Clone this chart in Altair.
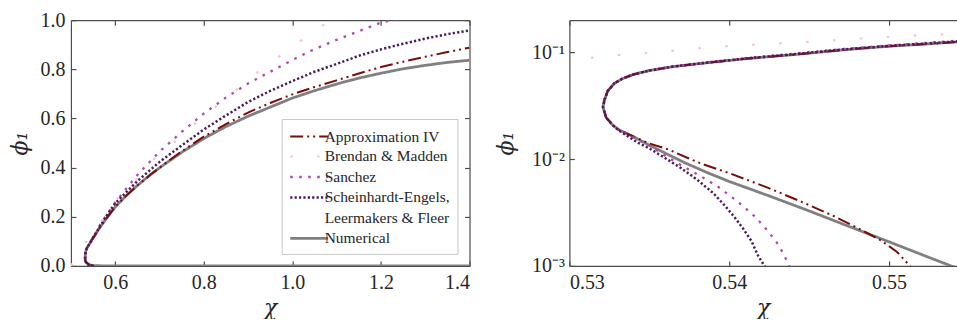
import altair as alt
import pandas as pd

# ---------------- data (chi, phi_1) ----------------
NUM_CHI = [1.40, 0.80, 0.65, 0.60, 0.57, 0.56, 0.5545, 0.5525, 0.550, 0.5475, 0.545, 0.5425, 0.540, 0.5386,
           0.5372, 0.5360, 0.5350, 0.5340, 0.5331, 0.5327, 0.5323, 0.5321, 0.5322, 0.5324, 0.5328, 0.5333,
           0.5340, 0.5350, 0.5365, 0.5385, 0.5410, 0.5440, 0.5470, 0.5500, 0.5525, 0.5545, 0.560, 0.566,
           0.580, 0.600, 0.625, 0.650, 0.680, 0.710, 0.750, 0.800, 0.850, 0.900, 0.950, 1.000, 1.050,
           1.100, 1.150, 1.200, 1.250, 1.300, 1.350, 1.400]
NUM_PHI = [0.000001, 0.00001, 0.00003, 0.0001, 0.0004, 0.0006, 0.00092, 0.0012, 0.00168, 0.00234, 0.00327,
           0.00452, 0.00617, 0.0075, 0.00927, 0.01135, 0.0135, 0.0162, 0.0188, 0.0209, 0.0245, 0.0307,
           0.036, 0.0435, 0.051, 0.0565, 0.062, 0.0675, 0.0735, 0.0795, 0.087, 0.095, 0.105, 0.114, 0.120,
           0.126, 0.142, 0.158, 0.193, 0.240, 0.286, 0.327, 0.372, 0.412, 0.462, 0.518, 0.567, 0.609, 0.646,
           0.683, 0.713, 0.740, 0.764, 0.784, 0.802, 0.816, 0.828, 0.837]

RED_CHI = [0.5518, 0.5513, 0.5505, 0.5495, 0.5482, 0.5466, 0.5445, 0.5424, 0.5400, 0.5383, 0.5375, 0.5362,
           0.5350, 0.5340, 0.5331, 0.5327, 0.5323, 0.5321, 0.5322, 0.5324, 0.5328, 0.5333, 0.5340, 0.5350,
           0.5365, 0.5385, 0.5410, 0.5440, 0.5470, 0.5500, 0.5525, 0.5545, 0.560, 0.566, 0.580, 0.600,
           0.625, 0.650, 0.680, 0.710, 0.750, 0.800, 0.850, 0.900, 0.950, 1.000, 1.050, 1.100, 1.150,
           1.200, 1.250, 1.300, 1.350, 1.400]
RED_PHI = [0.0008, 0.0010, 0.00135, 0.00173, 0.0022, 0.0029, 0.0040, 0.0054, 0.0074, 0.0090, 0.0101, 0.0123,
           0.0140, 0.0163, 0.0188, 0.0209, 0.0245, 0.0307, 0.036, 0.0435, 0.051, 0.0565, 0.062, 0.0675,
           0.0735, 0.0795, 0.087, 0.095, 0.105, 0.114, 0.120, 0.126, 0.142, 0.158, 0.193, 0.240, 0.286,
           0.327, 0.372, 0.413, 0.466, 0.526, 0.577, 0.624, 0.663, 0.698, 0.728, 0.755, 0.783, 0.809,
           0.831, 0.851, 0.870, 0.888]

SAN_CHI = [0.5440, 0.5437, 0.5431, 0.5424, 0.5416, 0.5408, 0.5400, 0.5393, 0.5383, 0.5372, 0.5362, 0.5350,
           0.5340, 0.5331, 0.5327, 0.5323, 0.5321, 0.5322, 0.5324, 0.5328, 0.5333, 0.5340, 0.5350, 0.5365,
           0.5385, 0.5410, 0.5440, 0.5470, 0.5500, 0.5525, 0.5545, 0.560, 0.566, 0.580, 0.600, 0.625,
           0.650, 0.675, 0.700, 0.750, 0.800, 0.850, 0.900, 0.950, 1.000, 1.050, 1.100, 1.150, 1.200, 1.250]
SAN_PHI = [0.0008, 0.00105, 0.00156, 0.00214, 0.0029, 0.0037, 0.0046, 0.0055, 0.0068, 0.0084, 0.0103, 0.0134,
           0.0160, 0.0187, 0.0209, 0.0245, 0.0307, 0.036, 0.0435, 0.051, 0.0565, 0.062, 0.0675, 0.0737,
           0.080, 0.088, 0.097, 0.107, 0.116, 0.123, 0.129, 0.148, 0.168, 0.205, 0.258, 0.315, 0.370,
           0.418, 0.465, 0.545, 0.620, 0.685, 0.742, 0.790, 0.838, 0.882, 0.920, 0.955, 0.990, 1.010]

SEL_CHI = [0.5424, 0.5422, 0.5418, 0.5414, 0.5409, 0.5403, 0.5397, 0.5390, 0.5380, 0.5370, 0.5360, 0.5350,
           0.5343, 0.5337, 0.5331, 0.5327, 0.5323, 0.5321, 0.5322, 0.5324, 0.5328, 0.5333, 0.5340, 0.5350,
           0.5365, 0.5385, 0.5410, 0.5440, 0.5470, 0.5500, 0.5525, 0.5545, 0.560, 0.566, 0.580, 0.600,
           0.650, 0.700, 0.750, 0.800, 0.850, 0.900, 0.950, 1.000, 1.050, 1.100, 1.150, 1.200, 1.250,
           1.300, 1.350, 1.400]
SEL_PHI = [0.0008, 0.0010, 0.00125, 0.0017, 0.0022, 0.0029, 0.0037, 0.0048, 0.0064, 0.0082, 0.0102, 0.0126,
           0.0142, 0.0162, 0.0185, 0.0208, 0.0245, 0.0307, 0.036, 0.0435, 0.051, 0.0565, 0.062, 0.0675,
           0.0735, 0.0797, 0.0875, 0.0957, 0.106, 0.115, 0.1215, 0.127, 0.144, 0.162, 0.203, 0.255, 0.345,
           0.423, 0.490, 0.555, 0.612, 0.667, 0.712, 0.752, 0.790, 0.822, 0.855, 0.881, 0.904, 0.925,
           0.943, 0.958]

BM_CHI = [0.500, 0.510, 0.520, 0.530, 0.5318, 0.5335, 0.5353, 0.5370, 0.5387, 0.5404, 0.5421, 0.5438, 0.5456,
          0.5472, 0.5490, 0.5507, 0.5524, 0.5545, 0.572, 0.611, 0.653, 0.690, 0.741, 0.788, 0.835, 0.8855,
          0.931, 0.982, 1.032, 1.085, 1.100]
BM_PHI = [0.0005, 0.030, 0.058, 0.0861, 0.0899, 0.0958, 0.0993, 0.1052, 0.1113, 0.1154, 0.1187, 0.1230,
          0.1265, 0.1321, 0.1369, 0.1419, 0.1449, 0.1503, 0.190, 0.290, 0.360, 0.440, 0.515, 0.592, 0.660,
          0.735, 0.802, 0.868, 0.933, 0.999, 1.020]

# legend entries (the 5th is the second line of the 4th label)
SERIES = ["Approximation IV", "Brendan & Madden", "Sanchez", "Scheinhardt-Engels,",
          "Leermakers & Fleer", "Numerical"]
COLORS = ["#7a0c0c", "#f2c2d8", "#b04aae", "#4a1a5e", "rgba(0,0,0,0)", "#808080"]
DASHES = [[13, 4, 2, 4, 2, 4], [2.5, 24.5], [2.6, 6.4], [2.2, 2.2], [1, 0], [1, 0]]
WIDTHS = [2.0, 2.8, 2.8, 2.6, 0.0, 4.0]

L_XTICKS = [0.6, 0.8, 1.0, 1.2, 1.4]
L_YTICKS = [0.0, 0.2, 0.4, 0.6, 0.8, 1.0]
R_XTICKS = [0.53, 0.54, 0.55]
R_YTICKS = [0.001, 0.01, 0.1]

rows = []
for name, cs, ps in [("Numerical", NUM_CHI, NUM_PHI), ("Approximation IV", RED_CHI, RED_PHI),
                     ("Sanchez", SAN_CHI, SAN_PHI), ("Scheinhardt-Engels,", SEL_CHI, SEL_PHI),
                     ("Brendan & Madden", BM_CHI, BM_PHI)]:
    for i, (c, p) in enumerate(zip(cs, ps)):
        rows.append({"series": name, "chi": c, "phi": p, "idx": i})
df = pd.DataFrame(rows)

FONT = "Liberation Serif"
TFONT = "DejaVu Serif"
TXT = "#262626"
FRAME = "#4d4d4d"
LW, LH = 399, 246
RW, RH = 388, 246


def panel(width, height, xscale, yscale, xlab_axis, ylab_axis, legend, right_frame):
    def style_enc():
        return dict(
            color=alt.Color("series:N", scale=alt.Scale(domain=SERIES, range=COLORS), legend=legend),
            strokeDash=alt.StrokeDash("series:N", scale=alt.Scale(domain=SERIES, range=DASHES), legend=legend),
            strokeWidth=alt.StrokeWidth("series:N", scale=alt.Scale(domain=SERIES, range=WIDTHS), legend=legend),
            order=alt.Order("idx:Q"),
        )

    base = alt.Chart(df)
    grey = base.transform_filter(alt.datum.series == "Numerical").mark_line(clip=True, strokeCap="butt").encode(
        x=alt.X("chi:Q", scale=xscale, axis=xlab_axis),
        y=alt.Y("phi:Q", scale=yscale, axis=ylab_axis),
        **style_enc(),
    )
    others = base.transform_filter(alt.datum.series != "Numerical").mark_line(clip=True, strokeCap="butt").encode(
        x=alt.X("chi:Q", scale=xscale, axis=None),
        y=alt.Y("phi:Q", scale=yscale, axis=None),
        **style_enc(),
    )
    tick_common = dict(labels=False, grid=False, ticks=True, tickSize=5, tickColor=FRAME, tickWidth=1.2,
                       domainColor=FRAME, domainWidth=1.2, title=None)
    # inward ticks at bottom and left
    inner1 = base.mark_point(opacity=0, clip=True).encode(
        x=alt.X("chi:Q", scale=xscale,
                axis=alt.Axis(orient="top", offset=-height, domain=False, values=xlab_axis.values, **tick_common)),
        y=alt.Y("phi:Q", scale=yscale,
                axis=alt.Axis(orient="right", offset=-width, domain=False, values=ylab_axis.values, **tick_common)),
    )
    # inward ticks at top and right, with frame lines
    if right_frame:
        yax2 = alt.Axis(orient="left", offset=-width, domain=True, values=ylab_axis.values, **tick_common)
    else:
        yax2 = None
    inner2 = base.mark_point(opacity=0, clip=True).encode(
        x=alt.X("chi:Q", scale=xscale,
                axis=alt.Axis(orient="bottom", offset=-height, domain=True, values=xlab_axis.values, **tick_common)),
        y=alt.Y("phi:Q", scale=yscale, axis=yax2),
    )
    return alt.layer(grey, others, inner1, inner2).resolve_axis(x="independent", y="independent").properties(
        width=width, height=height)


lab_common = dict(grid=False, ticks=False, domain=True, domainColor=FRAME, domainWidth=1.2,
                  labelFont=FONT, labelFontSize=20, labelColor=TXT,
                  titleFont=TFONT, titleFontSize=22, titleFontStyle="italic", titleFontWeight="normal",
                  titleColor=TXT)

left_x_axis = alt.Axis(orient="bottom", values=L_XTICKS, format=".1f", labelPadding=7, title="χ",
                       titlePadding=5, **lab_common)
left_y_axis = alt.Axis(orient="left", values=L_YTICKS, format=".1f", labelPadding=6, title="ϕ₁",
                       titlePadding=8, **lab_common)
right_x_axis = alt.Axis(orient="bottom", values=R_XTICKS, format=".2f", labelPadding=7, title="χ",
                        titlePadding=5, **lab_common)
right_y_axis = alt.Axis(orient="left", values=R_YTICKS, labelPadding=5, title="ϕ₁", titlePadding=14,
                        labelExpr="datum.value < 0.005 ? '10⁻³' : (datum.value < 0.05 ? '10⁻²' : '10⁻¹')",
                        **lab_common)

# custom horizontal-line symbol twice as long as the row height
legend = alt.Legend(orient="none", legendX=211, legendY=99, title=None, symbolType="M-1,0H3",
                    symbolSize=361, labelFont=FONT, labelFontSize=15.5, labelColor=TXT,
                    labelOffset=14, rowPadding=0.5, padding=7, strokeColor="#c8c8c8", fillColor="white",
                    labelLimit=300)

left = panel(LW, LH, alt.Scale(domain=[0.5, 1.4], nice=False, zero=False),
             alt.Scale(domain=[0.0, 1.0], nice=False), left_x_axis, left_y_axis, legend, True)
right = panel(RW, RH, alt.Scale(domain=[0.53, 0.55425], nice=False, zero=False),
              alt.Scale(type="log", domain=[0.001, 0.2], nice=False), right_x_axis, right_y_axis, None, False)

chart = alt.hconcat(left, right, spacing=100, bounds="flush").resolve_scale(
    color="independent", strokeDash="independent", strokeWidth="independent"
).properties(
    padding={"left": 9, "top": 10, "right": 0, "bottom": 0}
).configure_view(stroke=None)

chart.save("out.html", embed_options={"renderer": "svg", "actions": False})
